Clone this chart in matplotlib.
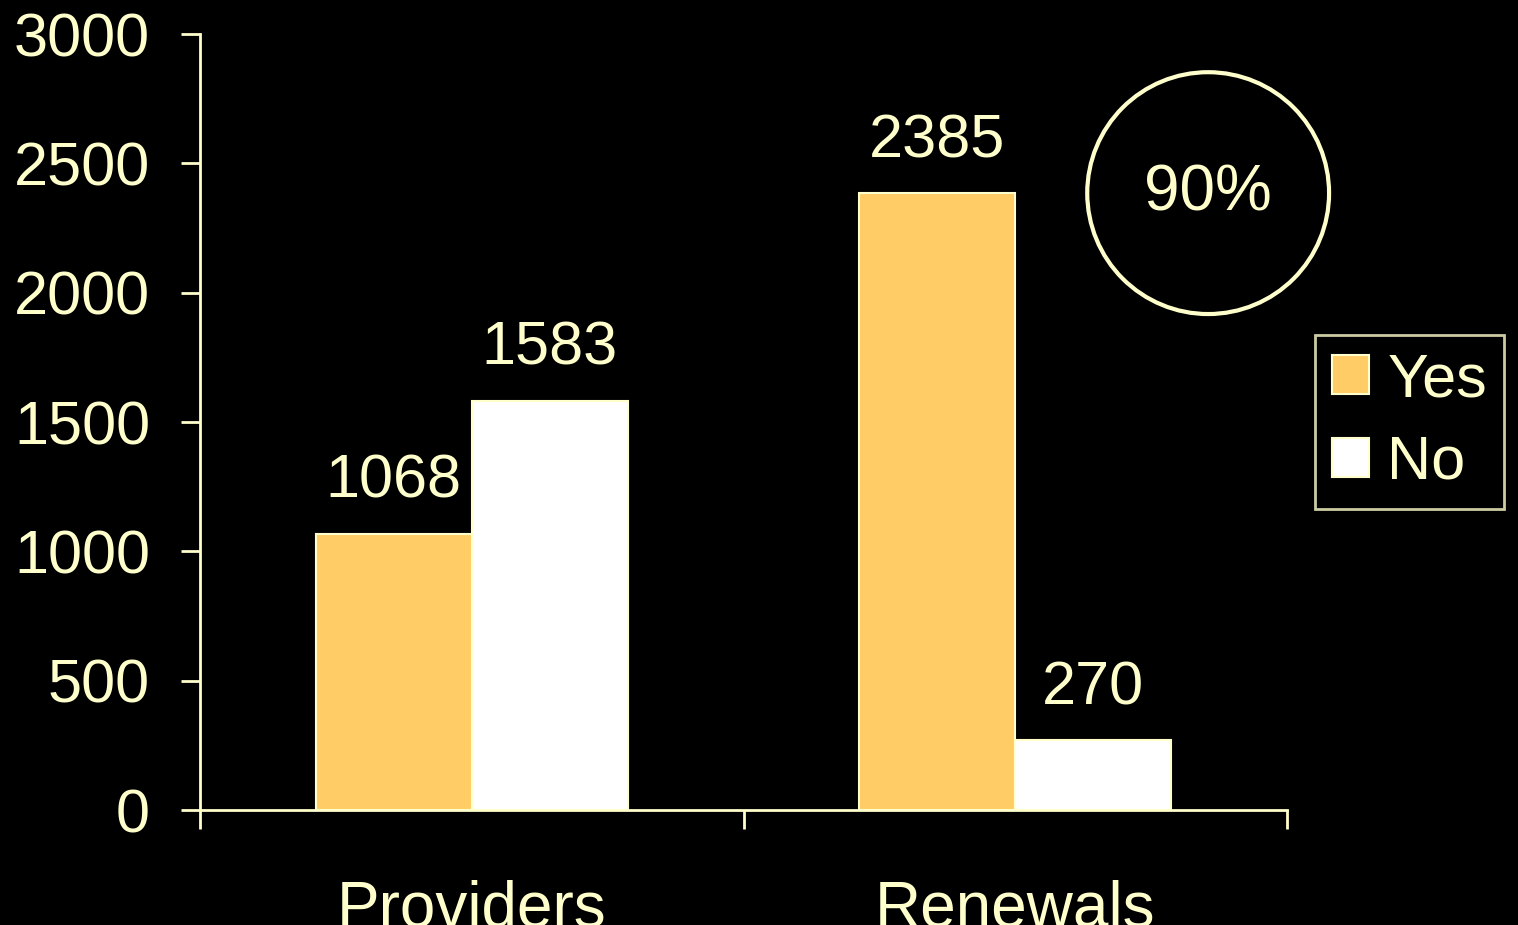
import matplotlib
matplotlib.use("Agg")
import matplotlib.pyplot as plt
from matplotlib.patches import Ellipse
import numpy as np

categories = ["Providers", "Renewals"]
yes_vals = [1068, 2385]
no_vals = [1583, 270]
series_names = ["Yes", "No"]
callout = "90%"

fg = "#FFFFCC"
yes_col = "#FFCC66"
no_col = "#FFFFFF"

plt.rcParams["font.family"] = ["Liberation Sans", "DejaVu Sans"]

fig = plt.figure(figsize=(15.18, 9.25), dpi=100, facecolor="black")
ax = fig.add_axes([0.1318, 0.1243, 0.716, 0.8389], facecolor="black")

x = np.arange(len(categories)) + 0.5
w = 0.287
b1 = ax.bar(x - w / 2, yes_vals, w, color=yes_col, edgecolor=fg, linewidth=1.5, label=series_names[0])
b2 = ax.bar(x + w / 2, no_vals, w, color=no_col, edgecolor=fg, linewidth=1.5, label=series_names[1])

for bars, vals in [(b1, yes_vals), (b2, no_vals)]:
    for r, v in zip(bars, vals):
        ax.annotate(str(v), (r.get_x() + r.get_width() / 2, v), xytext=(0, 26),
                    textcoords="offset points", ha="center", va="baseline",
                    fontsize=44, color=fg)

ax.set_xlim(0, 2)
ax.set_ylim(0, 3000)
ax.set_yticks(range(0, 3001, 500))
ax.set_xticks([0, 1, 2])
ax.set_xticklabels([])
ax.set_xticks(x, minor=True)
ax.set_xticklabels(categories, minor=True)
ax.tick_params(axis="x", which="minor", length=0, pad=50, labelsize=46, labelcolor=fg)
ax.tick_params(axis="x", which="major", length=14, width=2, color=fg, direction="out")
ax.tick_params(axis="y", length=14, width=2, color=fg, direction="out", pad=22,
               labelsize=44, labelcolor=fg)

for s in ["top", "right"]:
    ax.spines[s].set_visible(False)
for s in ["left", "bottom"]:
    ax.spines[s].set_color(fg)
    ax.spines[s].set_linewidth(2)

# 90% callout circle
ax.add_patch(Ellipse((1.855, 2385), 0.445, 935, fill=False, edgecolor=fg, linewidth=3, clip_on=False))
ax.text(1.855, 2385, callout, ha="center", va="center", fontsize=46, color=fg)

leg = ax.legend(loc="upper left", bbox_to_anchor=(1.026, 0.612), borderaxespad=0, frameon=True,
                fontsize=44, labelcolor=fg, handlelength=0.6, handleheight=0.6,
                handletextpad=0.3, borderpad=0.28, labelspacing=0.42, fancybox=False)
leg.get_frame().set_facecolor("black")
leg.get_frame().set_edgecolor(fg)
leg.get_frame().set_linewidth(2)

fig.savefig("out.png", dpi=100, facecolor="black")
